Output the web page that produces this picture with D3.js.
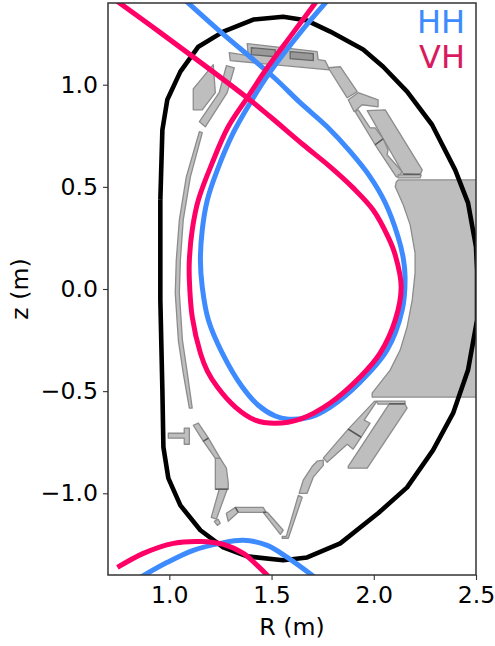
<!DOCTYPE html>
<html>
<head>
<meta charset="utf-8">
<script src="https://cdn.jsdelivr.net/npm/d3@7"></script>
<style>
html, body { margin: 0; padding: 0; background: #fff; }
text { font-family: "DejaVu Sans", sans-serif; }
</style>
</head>
<body>
<svg id="chart" width="495" height="646"></svg>
<script>
const xTicks = [1.0, 1.5, 2.0, 2.5]
const yTicks = [-1.0, -0.5, 0.0, 0.5, 1.0]

// first wall contour
const wallR = [0.956,0.966,0.990,1.054,1.142,1.264,1.411,1.557,1.674,1.787,1.948,2.046,2.163,2.285,2.398,2.461,2.500,2.505,2.505,2.461,2.388,2.290,2.163,2.021,1.836,1.674,1.557,1.381,1.264,1.152,1.054,0.995,0.971,0.966,0.956,0.956]
const wallZ = [0.436,0.779,0.926,1.064,1.186,1.260,1.319,1.333,1.314,1.260,1.172,1.088,0.966,0.804,0.583,0.422,0.206,0.093,-0.152,-0.397,-0.608,-0.789,-0.971,-1.098,-1.245,-1.314,-1.328,-1.309,-1.265,-1.181,-1.059,-0.926,-0.774,-0.495,-0.054,0.436]

// separatrix through the upper x-point
const hhR = [1.068,1.249,1.508,1.640,1.772,1.885,1.982,2.056,2.119,2.144,2.153,2.139,2.065,1.933,1.787,1.689,1.582,1.518,1.435,1.357,1.259,1.191,1.161,1.152,1.161,1.186,1.235,1.313,1.396,1.494,1.640,1.782]
const hhZ = [1.422,1.260,1.039,0.912,0.794,0.672,0.549,0.422,0.255,0.152,0.059,-0.103,-0.299,-0.456,-0.578,-0.627,-0.637,-0.622,-0.569,-0.480,-0.314,-0.152,0.010,0.142,0.289,0.436,0.583,0.765,0.912,1.064,1.255,1.422]
const vhR = [0.726,0.956,1.381,1.494,1.655,1.787,1.899,1.997,2.070,2.105,2.134,2.105,2.031,1.933,1.787,1.640,1.518,1.420,1.323,1.235,1.186,1.152,1.112,1.098,1.098,1.112,1.142,1.210,1.288,1.381,1.479,1.606,1.748]
const vhZ = [1.422,1.255,0.936,0.843,0.706,0.598,0.495,0.387,0.255,0.166,0.010,-0.152,-0.314,-0.431,-0.558,-0.637,-0.657,-0.642,-0.578,-0.480,-0.402,-0.314,-0.137,0.044,0.142,0.289,0.436,0.618,0.794,0.936,1.083,1.255,1.446]

// lower separatrix branch
const hhLowR = [0.858,0.990,1.117,1.249,1.362,1.479,1.577,1.719]
const hhLowZ = [-1.412,-1.338,-1.279,-1.245,-1.230,-1.255,-1.314,-1.417]
const vhLowR = [0.746,0.873,1.020,1.152,1.264,1.362,1.430,1.494]
const vhLowZ = [-1.363,-1.294,-1.245,-1.236,-1.250,-1.294,-1.353,-1.417]

// machine structures, [R, z] corners
const innerWall = [[1.147,0.770],[1.083,0.549],[1.049,0.338],[1.034,0.142],[1.029,-0.020],[1.044,-0.250],[1.068,-0.412],[1.098,-0.583],[1.112,-0.583],[1.088,-0.412],[1.064,-0.250],[1.049,-0.020],[1.054,0.142],[1.068,0.338],[1.103,0.549],[1.161,0.765]]
const centerColumn = [[2.119,0.534],[2.520,0.534],[2.520,-0.529],[1.992,-0.529],[1.992,-0.510],[2.080,-0.397],[2.129,-0.299],[2.163,-0.186],[2.188,-0.054],[2.202,0.078],[2.202,0.176],[2.178,0.314],[2.144,0.412],[2.105,0.500],[2.110,0.524]]
const upperLeft = [
  [[1.215,1.098],[1.225,0.961],[1.161,0.877],[1.117,0.877],[1.117,0.980]],
  [[1.279,1.093],[1.318,1.083],[1.283,0.961],[1.176,0.794],[1.147,0.819],[1.244,0.961]]
]
const upperDome = [[1.381,1.201],[1.723,1.162],[1.728,1.123],[1.762,1.118],[1.777,1.088],[1.782,1.073],[1.298,1.118],[1.293,1.157],[1.386,1.142]]
const domeInsets = [
  [[1.401,1.181],[1.518,1.171],[1.518,1.137],[1.401,1.147]],
  [[1.591,1.162],[1.704,1.152],[1.704,1.118],[1.591,1.127]]
]
const upperRight = [
  [[1.777,1.083],[1.836,1.088],[1.919,0.966],[1.870,0.936]],
  [[1.875,0.926],[1.924,0.961],[2.021,0.926],[2.021,0.892],[1.943,0.902],[1.904,0.868]],
  [[1.909,0.868],[2.007,0.706],[2.046,0.735],[2.007,0.789],[1.982,0.789],[1.924,0.877]],
  [[2.007,0.706],[2.046,0.735],[2.070,0.681],[2.065,0.657],[2.139,0.574],[2.119,0.549],[2.110,0.549]],
  [[1.968,0.873],[2.056,0.877],[2.237,0.583],[2.227,0.559],[2.144,0.564]],
  [[2.119,0.559],[2.232,0.559],[2.227,0.544],[2.119,0.544]]
]
const lowerRight = [
  [[2.004,-0.549],[2.012,-0.554],[1.953,-0.642],[1.982,-0.657],[1.938,-0.725],[1.875,-0.686]],
  [[1.875,-0.686],[1.938,-0.725],[1.899,-0.784],[1.870,-0.760],[1.772,-0.848],[1.753,-0.828]],
  [[2.012,-0.549],[2.153,-0.549],[2.153,-0.564],[2.021,-0.564]],
  [[2.075,-0.564],[2.153,-0.564],[2.163,-0.583],[1.968,-0.877],[1.875,-0.877],[1.875,-0.868]],
  [[1.753,-0.838],[1.723,-0.843],[1.699,-0.868],[1.655,-0.936],[1.635,-1.000],[1.674,-1.000],[1.704,-0.921],[1.753,-0.863]],
  [[1.631,-1.010],[1.650,-1.020],[1.582,-1.220],[1.552,-1.220],[1.552,-1.211],[1.572,-1.211]]
]
const lowerLeft = [
  [[0.995,-0.706],[1.073,-0.706],[1.073,-0.681],[1.098,-0.681],[1.098,-0.760],[1.073,-0.760],[1.073,-0.730],[0.995,-0.730]],
  [[1.117,-0.667],[1.142,-0.657],[1.191,-0.730],[1.166,-0.745]],
  [[1.166,-0.745],[1.191,-0.730],[1.249,-0.829],[1.225,-0.829]],
  [[1.225,-0.829],[1.249,-0.829],[1.279,-0.877],[1.288,-0.946],[1.288,-0.980],[1.225,-0.980]],
  [[1.244,-0.980],[1.283,-0.980],[1.230,-1.127],[1.205,-1.118]],
  [[1.220,-1.137],[1.239,-1.127],[1.249,-1.147],[1.235,-1.157]],
  [[1.279,-1.098],[1.323,-1.069],[1.337,-1.093],[1.288,-1.137]],
  [[1.323,-1.069],[1.459,-1.069],[1.474,-1.093],[1.337,-1.093]],
  [[1.459,-1.093],[1.479,-1.093],[1.557,-1.181],[1.543,-1.201]]
]
// darker joints between neighbouring pieces
const seams = [
  [[2.007,0.706],[2.046,0.735]],
  [[2.144,0.562],[2.227,0.562]],
  [[1.875,-0.686],[1.938,-0.725]],
  [[2.075,-0.562],[2.153,-0.562]],
  [[1.166,-0.745],[1.191,-0.730]],
  [[1.225,-0.980],[1.288,-0.980]],
  [[1.323,-1.069],[1.337,-1.093]],
  [[1.459,-1.093],[1.474,-1.093]]
]

const hhColor = '#3d8bff'
const vhColor = '#ff0066'
const grayFill = '#bebebe'
const grayEdge = '#8c8c8c'

const margin = {top: 3, right: 19, bottom: 71, left: 108}
const width = 495
const height = 646

const x = d3.scaleLinear().domain([0.7, 2.5]).range([margin.left, width - margin.right])
const y = d3.scaleLinear().domain([-1.4, 1.4]).range([height - margin.bottom, margin.top])

const svg = d3.select('#chart')

svg.append('clipPath').attr('id', 'plot')
  .append('rect')
  .attr('x', x(0.7)).attr('y', y(1.4))
  .attr('width', x(2.5) - x(0.7)).attr('height', y(-1.4) - y(1.4))

const g = svg.append('g').attr('clip-path', 'url(#plot)')

const shape = d3.line().x(d => x(d[0])).y(d => y(d[1])).curve(d3.curveLinearClosed)
const path = d3.line().x(d => x(d[0])).y(d => y(d[1]))
const smooth = d3.line().x(d => x(d[0])).y(d => y(d[1])).curve(d3.curveCatmullRom.alpha(0.5))
const zip = (a, b) => a.map((v, i) => [v, b[i]])

const structures = [innerWall, centerColumn, ...upperLeft, upperDome, ...upperRight, ...lowerRight, ...lowerLeft]

g.selectAll('.structure')
  .data(structures)
  .join('path')
  .attr('class', 'structure')
  .attr('d', shape)
  .attr('fill', grayFill)
  .attr('stroke', grayEdge)
  .attr('stroke-width', 1.3)
  .attr('stroke-linejoin', 'round')

g.selectAll('.inset')
  .data(domeInsets)
  .join('path')
  .attr('class', 'inset')
  .attr('d', shape)
  .attr('fill', '#999')
  .attr('stroke', '#666')
  .attr('stroke-width', 1.3)

g.selectAll('.seam')
  .data(seams)
  .join('path')
  .attr('class', 'seam')
  .attr('d', path)
  .attr('stroke', '#555')
  .attr('stroke-width', 1.3)

g.append('path')
  .attr('d', path(zip(wallR, wallZ)))
  .attr('fill', 'none')
  .attr('stroke', '#000')
  .attr('stroke-width', 4.6)
  .attr('stroke-linejoin', 'round')

const curves = [
  [zip(hhR, hhZ), hhColor],
  [zip(hhLowR, hhLowZ), hhColor],
  [zip(vhR, vhZ), vhColor],
  [zip(vhLowR, vhLowZ), vhColor]
]

g.selectAll('.sep')
  .data(curves)
  .join('path')
  .attr('class', 'sep')
  .attr('d', d => smooth(d[0]))
  .attr('fill', 'none')
  .attr('stroke', d => d[1])
  .attr('stroke-width', 5)

const xAxis = svg.append('g')
  .attr('transform', `translate(0,${y(-1.4)})`)
  .call(d3.axisBottom(x).tickValues(xTicks).tickFormat(d3.format('.1f')).tickSize(5).tickPadding(6))
const yAxis = svg.append('g')
  .attr('transform', `translate(${x(0.7)},0)`)
  .call(d3.axisLeft(y).tickValues(yTicks).tickFormat(d => d3.format('.1f')(d).replace('-', '\u2212')).tickSize(5).tickPadding(5))

svg.selectAll('.domain').remove()
svg.selectAll('.tick text').attr('font-size', 23.6).attr('font-family', '"DejaVu Sans"').attr('fill', '#000')
svg.selectAll('.tick line').attr('stroke', '#333').attr('stroke-width', 1.1)

// frame on top of everything
svg.append('rect')
  .attr('x', x(0.7)).attr('y', y(1.4))
  .attr('width', x(2.5) - x(0.7)).attr('height', y(-1.4) - y(1.4))
  .attr('fill', 'none').attr('stroke', '#333').attr('stroke-width', 1.5)

svg.append('text').attr('x', (x(0.7) + x(2.5)) / 2).attr('y', 635)
  .attr('text-anchor', 'middle').attr('font-size', 23.6).text('R (m)')
svg.append('text').attr('transform', `translate(28,${(y(1.4) + y(-1.4)) / 2}) rotate(-90)`)
  .attr('text-anchor', 'middle').attr('font-size', 23.6).text('z (m)')

svg.append('text').attr('x', 465).attr('y', 33).attr('text-anchor', 'end')
  .attr('font-size', 32).attr('fill', hhColor).text('HH')
svg.append('text').attr('x', 465).attr('y', 68).attr('text-anchor', 'end')
  .attr('font-size', 32).attr('fill', '#d81b60').text('VH')
</script>
</body>
</html>
